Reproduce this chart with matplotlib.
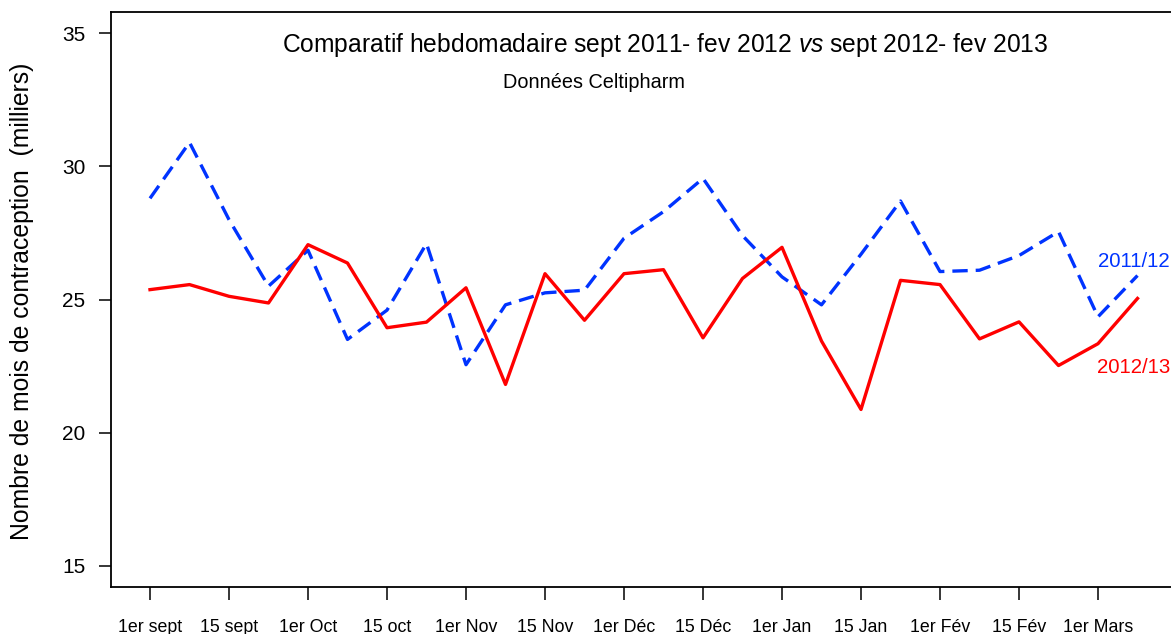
import matplotlib
matplotlib.use('Agg')
from matplotlib import pyplot as plt
import numpy as np

# weekly values, sept -> fev (milliers)
semaines = np.arange(26)
val_2011 = [28.8, 30.9, 28.0, 25.5, 26.85, 23.5, 24.6, 27.1, 22.55, 24.8, 25.25, 25.35, 27.3,
            28.3, 29.55, 27.4, 25.85, 24.8, 26.7, 28.7, 26.05, 26.1, 26.65, 27.55, 24.35, 25.9]
val_2012 = [25.37, 25.56, 25.12, 24.87, 27.06, 26.37, 23.94, 24.15, 25.44, 21.81, 25.97, 24.22, 25.97,
            26.12, 23.56, 25.79, 26.96, 23.44, 20.87, 25.72, 25.56, 23.52, 24.16, 22.52, 23.34, 25.04]
tick_pos = np.arange(0, 26, 2)
tick_labels = ["1er sept", "15 sept", "1er Oct", "15 oct", "1er Nov", "15 Nov", "1er Déc",
               "15 Déc", "1er Jan", "15 Jan", "1er Fév", "15 Fév", "1er Mars"]
y_ticks = [15, 20, 25, 30, 35]

plt.rcParams['font.family'] = ['Liberation Sans', 'DejaVu Sans']
plt.rcParams['mathtext.fontset'] = 'custom'
plt.rcParams['mathtext.rm'] = 'Liberation Sans'
plt.rcParams['mathtext.it'] = 'Liberation Sans:italic'

fig = plt.figure(figsize=(11.71, 6.34), dpi=100)
ax = fig.add_axes([110.5 / 1171, 1 - 587 / 634, 1066.5 / 1171, 575 / 634])

blue = '#0033ff'
red = '#ff0000'
ax.plot(semaines, val_2011, color=blue, lw=2.4, dashes=(4.6, 2.4))
ax.plot(semaines, val_2012, color=red, lw=2.4)

ax.set_xlim(-1, 26)
ax.set_ylim(14.2, 35.8)
ax.set_xticks(tick_pos)
ax.set_xticklabels(tick_labels, fontsize=12.8)
ax.set_yticks(y_ticks)
ax.set_yticklabels([str(v) for v in y_ticks], fontsize=15)
ax.tick_params(axis='x', direction='out', length=9, width=1.1, pad=14)
ax.tick_params(axis='y', direction='out', length=9, width=1.1, pad=9)
for s in ax.spines.values():
    s.set_linewidth(1.3)

ax.set_ylabel("Nombre de mois de contraception  (milliers)", fontsize=17.8)
ax.yaxis.set_label_coords(-0.0717, 0.497)

ax.text(0.52, 0.9426, r"Comparatif hebdomadaire sept 2011- fev 2012 $\mathit{vs}$ sept 2012- fev 2013",
        transform=ax.transAxes, ha='center', va='center', fontsize=17.7)
ax.text(0.4529, 0.878, "Données Celtipharm", transform=ax.transAxes, ha='center', va='center', fontsize=14.3)

ax.text(24.91, 26.44, "2011/12", color=blue, ha='center', va='center', fontsize=14.7)
ax.text(24.91, 22.45, "2012/13", color=red, ha='center', va='center', fontsize=14.7)

plt.savefig("out.png", dpi=100)
